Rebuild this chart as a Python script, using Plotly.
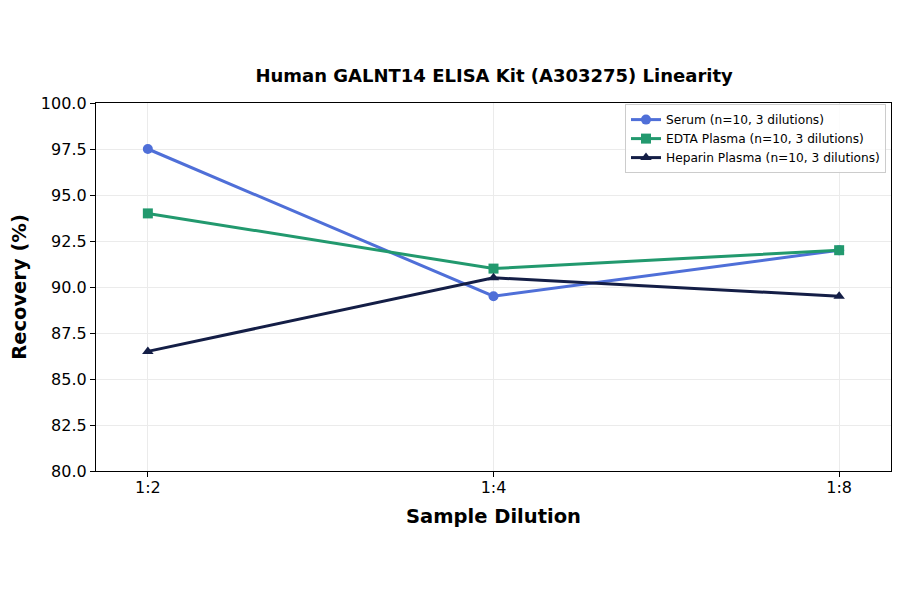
import plotly.graph_objects as go

categories = ["1:2", "1:4", "1:8"]
serum = [97.5, 89.5, 92.0]
edta = [94.0, 91.0, 92.0]
heparin = [86.5, 90.5, 89.5]
series_names = ["Serum (n=10, 3 dilutions)", "EDTA Plasma (n=10, 3 dilutions)", "Heparin Plasma (n=10, 3 dilutions)"]
colors = ["#4f6fd8", "#22996e", "#141e46"]
symbols = ["circle", "square", "triangle-up"]
y_ticks = [80.0, 82.5, 85.0, 87.5, 90.0, 92.5, 95.0, 97.5, 100.0]

fig = go.Figure()
for name, vals, c, s in zip(series_names, [serum, edta, heparin], colors, symbols):
    fig.add_trace(go.Scatter(
        x=categories, y=vals, name=name, mode="lines+markers",
        line=dict(color=c, width=3),
        marker=dict(symbol=s, size=10, color=c),
    ))

fig.update_layout(
    width=892, height=586,
    paper_bgcolor="white", plot_bgcolor="white",
    margin=dict(l=88, r=9, t=95, b=123, autoexpand=False),
    font=dict(family="DejaVu Sans", color="black"),
    title=dict(text="<b>Human GALNT14 ELISA Kit (A303275) Linearity</b>",
               x=0.545, xanchor="center", y=0.884, yanchor="middle",
               font=dict(size=18, family="DejaVu Sans")),
    xaxis=dict(
        type="category", range=[-0.15, 2.15], automargin=False,
        title=dict(text="<b>Sample Dilution</b>", font=dict(size=19.5), standoff=13),
        tickfont=dict(size=16), showgrid=True, gridcolor="#ebebeb", gridwidth=1,
        showline=True, linecolor="black", linewidth=1.3, mirror=True,
        ticks="outside", ticklen=5, tickcolor="black", zeroline=False,
        ticklabelstandoff=-3,
    ),
    yaxis=dict(
        range=[80, 100], tickvals=y_ticks, ticktext=[f"{v:.1f}" for v in y_ticks],
        automargin=False,
        title=dict(text="<b>Recovery (%)</b>", font=dict(size=19.5), standoff=15),
        tickfont=dict(size=16), showgrid=True, gridcolor="#ebebeb", gridwidth=1,
        showline=True, linecolor="black", linewidth=1.3, mirror=True,
        ticks="outside", ticklen=5, tickcolor="black", zeroline=False,
    ),
    legend=dict(
        x=0.9937, y=0.997, xanchor="right", yanchor="top",
        bgcolor="rgba(255,255,255,0.85)", bordercolor="#cccccc", borderwidth=1,
        font=dict(size=12.2), tracegroupgap=0, itemwidth=30,
    ),
)

fig.write_html("out.html")
